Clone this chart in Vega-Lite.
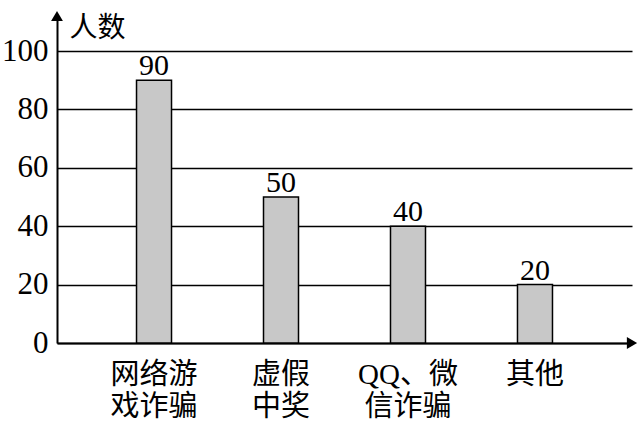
{
  "$schema": "https://vega.github.io/schema/vega-lite/v6.json",
  "width": 575,
  "height": 327,
  "autosize": "none",
  "padding": {"left": 57, "top": 16, "right": 7, "bottom": 84},
  "background": "white",
  "config": {"view": {"stroke": null}},
  "data": {"values": [
    {"类别": "网络游戏诈骗", "人数": 90},
    {"类别": "虚假中奖", "人数": 50},
    {"类别": "QQ、微信诈骗", "人数": 40},
    {"类别": "其他", "人数": 20}
  ]},
  "layer": [
    {
      "mark": {"type": "bar", "size": 35, "fill": "#c8c8c8", "stroke": "black", "strokeWidth": 1.5},
      "encoding": {
        "x": {"field": "类别", "type": "nominal", "sort": null,
          "scale": {"paddingInner": 0, "paddingOuter": 0.264},
          "axis": {"title": null, "domainColor": "black", "domainWidth": 2, "ticks": false,
            "labelAngle": 0, "labelFont": "Liberation Serif, Noto Sans CJK SC", "labelFontSize": 29,
            "labelColor": "black", "labelPadding": 17, "labelLineHeight": 32, "labelBaseline": "top",
            "labelExpr": "length(datum.value) > 4 ? [substring(datum.value,0,length(datum.value)-3), substring(datum.value,length(datum.value)-3)] : length(datum.value) == 4 ? [substring(datum.value,0,2), substring(datum.value,2)] : datum.value"}},
        "y": {"field": "人数", "type": "quantitative",
          "scale": {"domain": [0, 112], "nice": false},
          "axis": {"values": [0, 20, 40, 60, 80, 100], "ticks": false, "domainColor": "black", "domainWidth": 2,
            "grid": true, "gridColor": "black", "gridWidth": 1.5, "gridOpacity": 1,
            "labelFont": "Liberation Serif", "labelFontSize": 31, "labelColor": "black", "labelPadding": 9,
            "title": "人数", "titleAngle": 0, "titleX": 12, "titleY": 12, "titleAlign": "left", "titleBaseline": "middle",
            "titleFont": "Noto Sans CJK SC", "titleFontSize": 28, "titleFontWeight": "normal", "titleColor": "black"}}
      }
    },
    {
      "mark": {"type": "text", "font": "Liberation Serif", "fontSize": 30, "color": "black", "baseline": "alphabetic", "dy": -5},
      "encoding": {
        "x": {"field": "类别", "type": "nominal", "sort": null},
        "y": {"field": "人数", "type": "quantitative"},
        "text": {"field": "人数", "type": "quantitative"}
      }
    },
    {
      "data": {"values": [{}]},
      "mark": {"type": "point", "shape": "triangle-up", "size": 140, "filled": true, "color": "black", "opacity": 1},
      "encoding": {"x": {"value": 0}, "y": {"value": 0}}
    },
    {
      "data": {"values": [{}]},
      "mark": {"type": "point", "shape": "triangle-right", "size": 140, "filled": true, "color": "black", "opacity": 1},
      "encoding": {"x": {"value": "width"}, "y": {"value": "height"}}
    }
  ]
}
